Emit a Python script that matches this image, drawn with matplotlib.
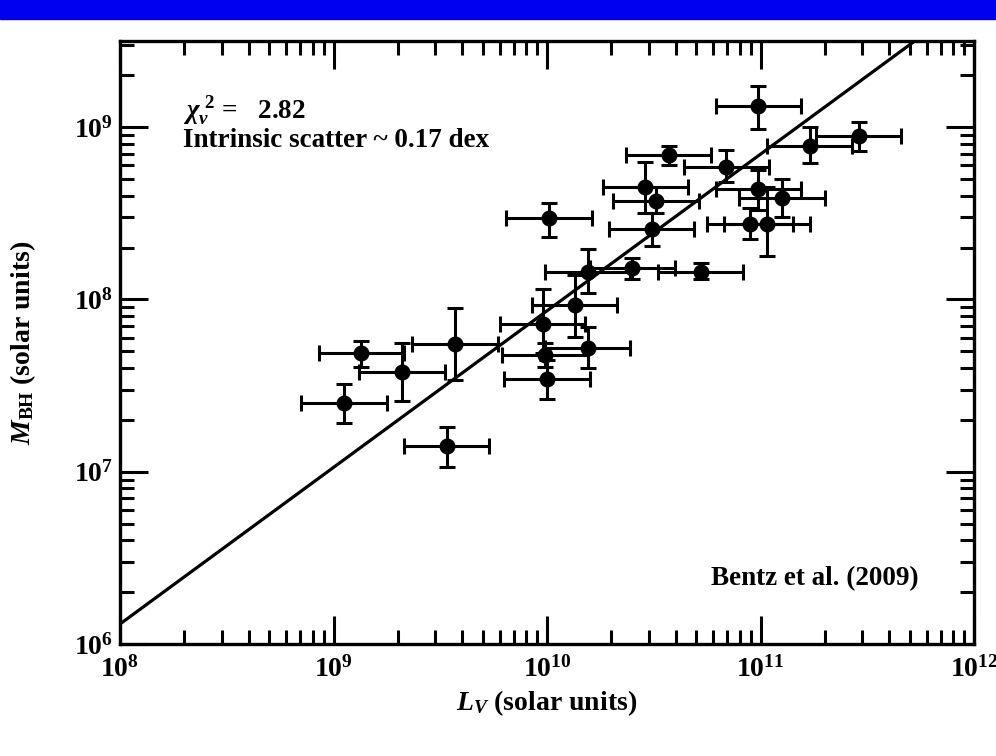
import numpy as np
import matplotlib
matplotlib.use('Agg')
import matplotlib.pyplot as plt
from matplotlib.ticker import LogLocator, NullFormatter, LogFormatterSciNotation

plt.rcParams['font.family'] = 'Liberation Serif'
plt.rcParams['font.weight'] = 'bold'
plt.rcParams['axes.labelweight'] = 'bold'
plt.rcParams['mathtext.fontset'] = 'custom'
plt.rcParams['mathtext.rm'] = 'Liberation Serif:bold'
plt.rcParams['mathtext.it'] = 'Liberation Serif:italic:bold'
plt.rcParams['mathtext.bf'] = 'Liberation Serif:bold'

# log10 of V-band luminosity and black hole mass
log_L = [9.05, 9.13, 9.32, 9.57, 9.53, 10.00, 9.99, 9.98, 10.13, 10.19,
         10.19, 10.40, 10.72, 10.01, 10.46, 10.51, 10.49, 10.57, 10.84, 10.99,
         11.23, 11.46, 10.99, 11.10, 10.95, 11.03]
log_M = [7.40, 7.69, 7.58, 7.74, 7.15, 7.54, 7.68, 7.86, 7.97, 7.72,
         8.16, 8.18, 8.16, 8.47, 8.65, 8.57, 8.41, 8.84, 8.77, 9.12,
         8.89, 8.95, 8.64, 8.59, 8.44, 8.44]
# asymmetric mass errors in dex (lower, upper)
M_err_lo = [0.12, 0.08, 0.17, 0.21, 0.12, 0.12, 0.07, 0.17, 0.19, 0.12,
            0.12, 0.06, 0.04, 0.11, 0.15, 0.07, 0.10, 0.06, 0.09, 0.13,
            0.10, 0.09, 0.12, 0.11, 0.09, 0.19]
M_err_hi = [0.11, 0.07, 0.17, 0.21, 0.11, 0.11, 0.07, 0.20, 0.17, 0.12,
            0.13, 0.06, 0.05, 0.09, 0.15, 0.08, 0.09, 0.05, 0.10, 0.12,
            0.11, 0.08, 0.11, 0.11, 0.09, 0.21]
L_err = 0.20  # dex, same for all objects

# fitted relation: log M = a + b * (log L - 8)
fit_a = 6.116
fit_b = 0.909

log_L = np.array(log_L)
log_M = np.array(log_M)
L = 10**log_L
M = 10**log_M
xerr = [L - 10**(log_L - L_err), 10**(log_L + L_err) - L]
yerr = [M - 10**(log_M - np.array(M_err_lo)), 10**(log_M + np.array(M_err_hi)) - M]

fig = plt.figure(figsize=(9.96, 7.56), dpi=100)
fig.patches.append(plt.Rectangle((0, 1 - 19/756), 1, 19/756, transform=fig.transFigure,
                                 color='#0000f0', zorder=0))
ax = fig.add_axes([120/996, 112/756, 854/996, 603/756])

fit_x = np.array([8.0, 12.0])
ax.plot(10**fit_x, 10**(fit_a + fit_b*(fit_x - 8)), color='black', lw=2.3, zorder=2)
ax.errorbar(L, M, xerr=xerr, yerr=yerr, fmt='o', color='black', ms=10.5,
            elinewidth=2.2, capsize=5.5, capthick=2.2, zorder=3)

ax.set_xscale('log')
ax.set_yscale('log')
ax.set_xlim(1e8, 1e12)
ax.set_ylim(1e6, 10**9.5)

for a in (ax.xaxis, ax.yaxis):
    a.set_major_locator(LogLocator(base=10, numticks=10))
    a.set_minor_locator(LogLocator(base=10, subs=np.arange(2, 10), numticks=10))
    a.set_minor_formatter(NullFormatter())
    a.set_major_formatter(LogFormatterSciNotation())

ax.tick_params(which='both', direction='in', top=True, right=True, width=2.2,
               labelsize=20)
ax.tick_params(which='major', length=20, pad=5)
ax.tick_params(axis='x', which='major', pad=9)
ax.tick_params(which='minor', length=10)
for s in ax.spines.values():
    s.set_linewidth(2.4)

ax.set_xlabel(r'$L_V$ (solar units)', fontsize=20, labelpad=4)
ax.set_ylabel(r'$M_{\mathrm{BH}}$ (solar units)', fontsize=20, labelpad=26)

ax.text(0.074, 0.872, r'$\chi_\nu^{\ 2}$ =   2.82', transform=ax.transAxes,
        fontsize=19.5, va='baseline')
ax.text(0.074, 0.825, 'Intrinsic scatter ~ 0.17 dex', transform=ax.transAxes,
        fontsize=19.5, va='baseline')
ax.text(0.935, 0.098, 'Bentz et al. (2009)', transform=ax.transAxes,
        fontsize=19.5, va='baseline', ha='right')

fig.savefig('out.png', dpi=100)
